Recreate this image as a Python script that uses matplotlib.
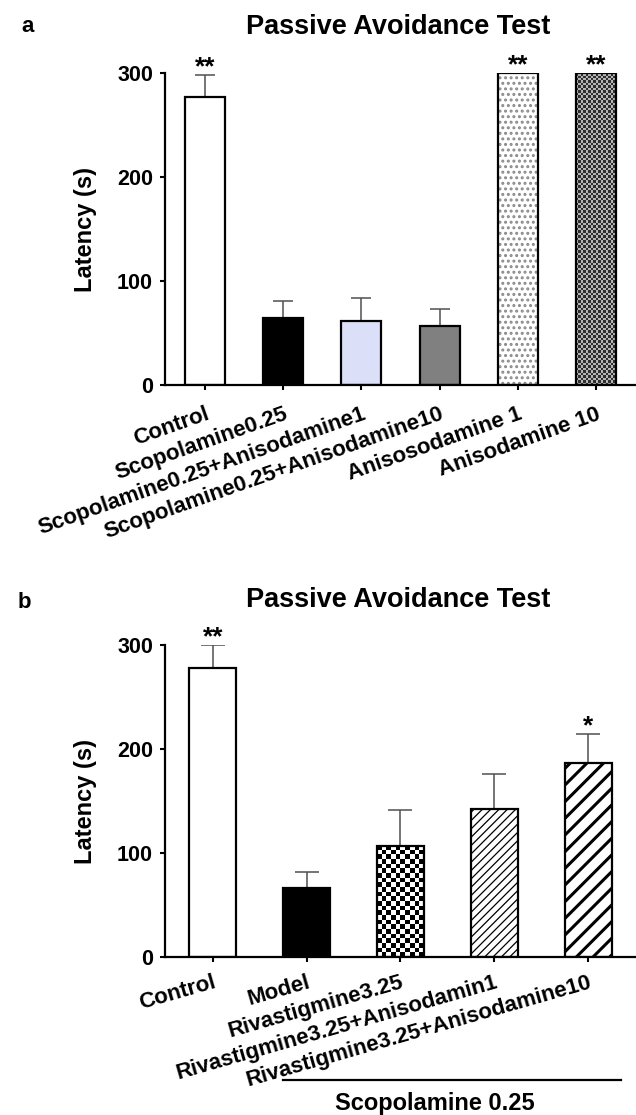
import numpy as np
import matplotlib
matplotlib.use("Agg")
import matplotlib.pyplot as plt
import matplotlib.transforms as mtransforms
from matplotlib.colors import ListedColormap

plt.rcParams['font.family'] = ['Liberation Sans', 'DejaVu Sans']
plt.rcParams['font.weight'] = 'bold'
plt.rcParams['axes.labelweight'] = 'bold'

# ---- data, panel a ----
groups_a = ['Control', 'Scopolamine0.25', 'Scopolamine0.25+Anisodamine1',
            'Scopolamine0.25+Anisodamine10', 'Anisosodamine 1', 'Anisodamine 10']
latency_a = [277, 64, 62, 57, 300, 300]
sem_a = [21, 17, 22, 16, 0, 0]
stars_a = ['**', '', '', '', '**', '**']

# ---- data, panel b ----
groups_b = ['Control', 'Model', 'Rivastigmine3.25',
            'Rivastigmine3.25+Anisodamin1', 'Rivastigmine3.25+Anisodamine10']
latency_b = [278, 66, 107, 142, 187]
sem_b = [22, 16, 34, 34, 27]
stars_b = ['**', '', '', '', '*']

yticks = [0, 100, 200, 300]

# bar looks: (face, hatch, hatch colour, hatch lw, checker colours or None, checker cols)
style_a = [('white', None, None, 1, None, 0),
           ('black', None, None, 1, None, 0),
           ('#dcdff8', None, None, 1, None, 0),
           ('#808080', None, None, 1, None, 0),
           ('white', '...', '#8a8a8a', 1.4, None, 0),
           ('#555555', None, None, 1, ('#2f2f2f', '#b5b5b5'), 16)]
style_b = [('white', None, None, 1, None, 0),
           ('black', None, None, 1, None, 0),
           ('white', None, None, 1, ('white', 'black'), 10),
           ('white', '////', 'black', 0.9, None, 0),
           ('white', '//', 'black', 2.2, None, 0)]


def draw_panel(ax, names, vals, errs, stars, styles, width, rot, cap, cell_px, xpad):
    x = np.arange(len(names))
    px_per_unit = 312 / 300
    for xi, v, st in zip(x, vals, styles):
        face, hatch, hcol, hlw, checker, ncols = st
        with plt.rc_context({'hatch.linewidth': hlw}):
            fill = ax.bar(xi, v, width, color=face, linewidth=0,
                          edgecolor=hcol if hcol else 'none', hatch=hatch,
                          zorder=2)[0]
        if checker is not None:
            x0 = fill.get_x()
            nrows = max(1, int(round(v * px_per_unit / cell_px)))
            grid = np.indices((nrows, ncols)).sum(axis=0) % 2
            im = ax.imshow(grid, extent=(x0, x0 + width, 0, v), origin='lower',
                           cmap=ListedColormap(list(checker)), aspect='auto',
                           interpolation='nearest', zorder=2.5)
            im.set_clip_path(fill)
        ax.bar(xi, v, width, color='none', edgecolor='black', linewidth=1.6,
               zorder=3)
    ax.errorbar(x, vals, yerr=[np.zeros(len(vals)), errs], fmt='none',
                ecolor='#505050', elinewidth=1.1, capsize=cap, capthick=1.1,
                zorder=1)
    for xi, v, e, s in zip(x, vals, errs, stars):
        if s:
            ax.annotate(s, xy=(xi, v + e), xytext=(0, 0.5),
                        textcoords='offset points', ha='center',
                        va='baseline', fontsize=19, annotation_clip=False)
    ax.set_ylim(0, 300)
    ax.set_xlim(-0.51, len(names) - 0.49)
    ax.set_yticks(yticks)
    ax.set_xticks(x)
    ax.set_xticklabels(names, rotation=rot, ha='right', va='top',
                       rotation_mode='anchor')
    ax.tick_params(axis='both', length=3.6, width=1.5)
    ax.tick_params(axis='y', pad=5, labelsize=15.5)
    ax.tick_params(axis='x', pad=xpad, labelsize=16)
    for side in ['top', 'right']:
        ax.spines[side].set_visible(False)
    for side in ['left', 'bottom']:
        ax.spines[side].set_linewidth(1.6)
    ax.set_ylabel('Latency (s)', fontsize=17, fontweight='bold')
    ax.yaxis.set_label_coords(-0.145, 0.5)


fig = plt.figure(figsize=(6.36, 11.15), dpi=100)
ax_a = fig.add_axes([0.2594, 0.6547, 0.7406, 0.2798])
ax_b = fig.add_axes([0.2594, 0.1417, 0.7406, 0.2798])

draw_panel(ax_a, groups_a, latency_a, sem_a, stars_a, style_a, 0.51, 19.5, 7.2, 2.5, 10)
draw_panel(ax_b, groups_b, latency_b, sem_b, stars_b, style_b, 0.50, 16, 8.6, 4.6, 7)

fig.text(0.626, 0.9758, 'Passive Avoidance Test', ha='center', va='center',
         fontsize=19.5)
fig.text(0.626, 0.4619, 'Passive Avoidance Test', ha='center', va='center',
         fontsize=19.5)
fig.text(28 / 636, 0.9758, 'a', ha='center', va='center', fontsize=16)
fig.text(24 / 636, 0.4595, 'b', ha='center', va='center', fontsize=16)

# bracket under the scopolamine-treated groups
trans = mtransforms.blended_transform_factory(ax_b.transData, ax_b.transAxes)
ax_b.plot([1 - 0.25, 4 + 0.35], [-0.394, -0.394], transform=trans,
          color='black', linewidth=1.6, clip_on=False)
ax_b.text(2.37, -0.468, 'Scopolamine 0.25', transform=trans, ha='center',
          va='center', fontsize=17)

fig.savefig('out.png', dpi=100, facecolor='white')
